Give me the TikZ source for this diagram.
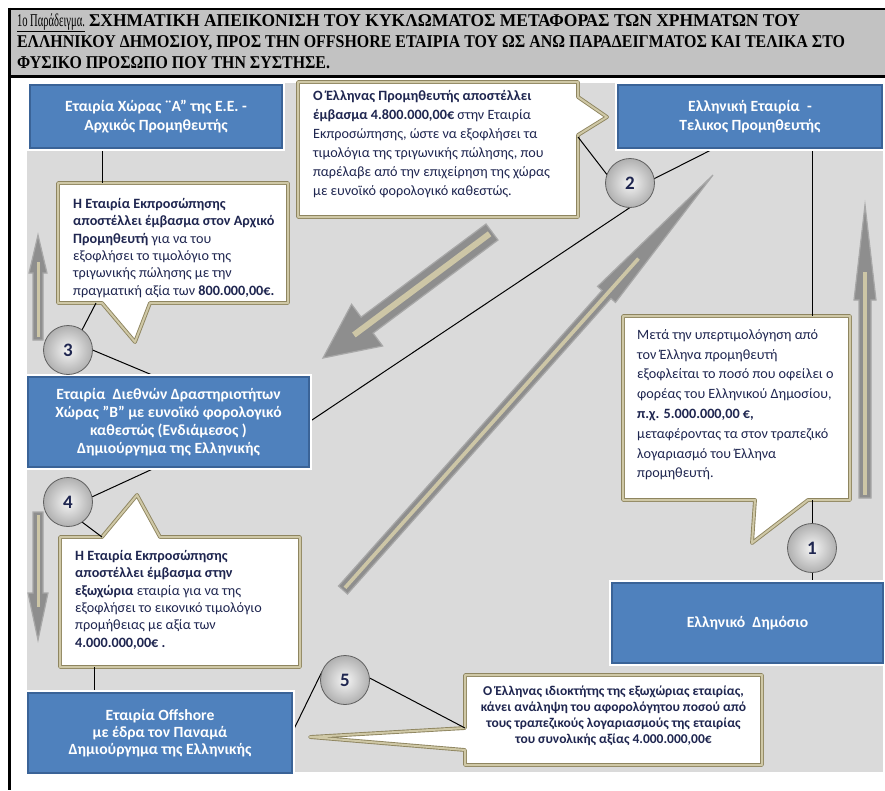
\documentclass[tikz,border=0pt]{standalone}
\usepackage{fontspec}
\usepackage{graphicx}
\setmainfont{Carlito}
\newfontfamily\hdrfont{Liberation Serif}
\usetikzlibrary{calc}
\pgfdeclarelayer{bg}
\pgfdeclarelayer{mid}
\pgfsetlayers{bg,mid,main}
\definecolor{boxblue}{HTML}{4F81BD}
\definecolor{boxedge}{HTML}{3A6397}
\definecolor{khaki}{HTML}{8E8560}
\definecolor{khakil}{HTML}{CFC8A6}
\definecolor{navy}{HTML}{1F2650}
\definecolor{bggray}{HTML}{DADADA}
\definecolor{hdrgray}{HTML}{C2C2C2}
\definecolor{arrowgray}{HTML}{8E8E8E}
\definecolor{arrowedge}{HTML}{A8A8A8}
\definecolor{arrowin}{HTML}{CDC6A6}

\newcommand\blockarrow[5]{%
  \coordinate (ba-h) at ($(#2)!#5!(#1)$);
  \filldraw[barrow] ($(#1)!#3!90:(#2)$) -- ($(ba-h)!#3!90:(#2)$) -- ($(ba-h)!#4!90:(#2)$) -- (#2)
    -- ($(ba-h)!#4!-90:(#2)$) -- ($(ba-h)!#3!-90:(#2)$) -- ($(#1)!#3!-90:(#2)$) -- cycle;
  \draw[barrowin, line width=0.6*#3] ($(#1)!3pt!(#2)$) -- ($(ba-h)!0.3!(#2)$);
}

\begin{document}
\begin{tikzpicture}[x=1pt,y=-1pt,
  hdr/.style={font=\hdrfont\bfseries\fontsize{18}{20}\selectfont, inner sep=0pt, outer sep=0pt, anchor=base west},
  bluebox/.style={rectangle, anchor=north west, fill=boxblue, draw=boxedge, line width=2.4pt,
     text=white, align=center, font=\bfseries\fontsize{15.6}{19}\selectfont, inner sep=2pt, outer sep=0pt,
     preaction={draw=white, line width=6pt}},
  cbox/.style={rectangle, anchor=north west, inner sep=0pt, outer sep=0pt},
  callout/.style={draw=khaki, line width=0.9pt, double=khakil, double distance=2pt, fill=white, line join=round},
  ctext/.style={anchor=north west, align=left, text=navy, inner sep=0pt, font=\fontsize{14.2}{17.4}\selectfont},
  numc/.style={circle, minimum size=49pt, inner sep=0pt, outer sep=0pt, draw=gray!75!black, line width=0.8pt,
     shading=radial, inner color=gray!8, outer color=gray!62, text=navy, font=\bfseries\fontsize{19}{19}\selectfont},
  conn/.style={draw=black, line width=1pt},
  barrow/.style={fill=arrowgray, draw=arrowedge, line width=1.2pt, line join=miter},
  barrowin/.style={draw=arrowin, line cap=butt}
]
\useasboundingbox (0,0) rectangle (885,790);

% ---------- background and header ----------
\begin{pgfonlayer}{bg}
  \fill[white] (0,0) rectangle (885,790);
  \fill[hdrgray] (9,9) rectangle (886,76);
  \draw[line width=2.5pt] (8,9) -- (886,9);
  \draw[line width=2.5pt] (8,76.5) -- (886,76.5);
  \draw[line width=3pt] (9,7.75) -- (9,790);
  \fill[bggray] (27,83) rectangle (883,772);
  % big decorative arrows
  \coordinate (a1t) at (492,232); \coordinate (a1h) at (323,358);
  \blockarrow{a1t}{a1h}{10pt}{26pt}{55pt}
  \coordinate (a2t) at (343,590); \coordinate (a2h) at (713,175);
  \blockarrow{a2t}{a2h}{6pt}{12pt}{160pt}
  \coordinate (a3t) at (38,340); \coordinate (a3h) at (38,235);
  \blockarrow{a3t}{a3h}{5pt}{9pt}{38pt}
  \coordinate (a4t) at (38,512); \coordinate (a4h) at (38,640);
  \blockarrow{a4t}{a4h}{5pt}{10pt}{47pt}
  \coordinate (a5t) at (865,498); \coordinate (a5h) at (865,205);
  \blockarrow{a5t}{a5h}{6pt}{11pt}{95pt}
\end{pgfonlayer}

\node[hdr] (h1a) at (17,26) {\resizebox{68pt}{\height}{\mdseries\underline{1ο Παράδειγμα.}}};
\node[hdr] (h1b) at (89,26) {\resizebox{711pt}{\height}{ΣΧΗΜΑΤΙΚΗ ΑΠΕΙΚΟΝΙΣΗ ΤΟΥ ΚΥΚΛΩΜΑΤΟΣ ΜΕΤΑΦΟΡΑΣ ΤΩΝ ΧΡΗΜΑΤΩΝ ΤΟΥ}};
\node[hdr] (h2) at (17,47) {\resizebox{828pt}{\height}{ΕΛΛΗΝΙΚΟΥ ΔΗΜΟΣΙΟΥ, ΠΡΟΣ ΤΗΝ OFFSHORE ΕΤΑΙΡΙΑ ΤΟΥ ΩΣ ΑΝΩ ΠΑΡΑΔΕΙΓΜΑΤΟΣ ΚΑΙ ΤΕΛΙΚΑ ΣΤΟ}};
\node[hdr] (h3) at (17,68) {\resizebox{313pt}{\height}{ΦΥΣΙΚΟ ΠΡΟΣΩΠΟ ΠΟΥ ΤΗΝ ΣΥΣΤΗΣΕ.}};

% ---------- blue boxes ----------
\node[bluebox, minimum width=252pt, minimum height=63pt] (b1) at (30,85)
  {Εταιρία Χώρας ¨Α" της Ε.Ε. -\\Αρχικός Προμηθευτής};
\node[bluebox, minimum width=264pt, minimum height=63pt] (b2) at (618,85)
  {Ελληνική Εταιρία\ \ -\\Τελικος Προμηθευτής};
\node[bluebox, minimum width=281pt, minimum height=90pt, font=\bfseries\fontsize{15.6}{18}\selectfont] (b3) at (28,377)
  {Εταιρία\ \ Διεθνών Δραστηριοτήτων\\Χώρας "Β" με ευνοϊκό φορολογικό\\καθεστώς (Ενδιάμεσος )\\Δημιούργημα της Ελληνικής};
\node[bluebox, minimum width=271pt, minimum height=80pt] (b4) at (612,583)
  {Ελληνικό\ \ Δημόσιο};
\node[bluebox, minimum width=264pt, minimum height=80pt, font=\bfseries\fontsize{15.6}{16.8}\selectfont] (b5) at (28,693)
  {Εταιρία Offshore\\με έδρα τον Παναμά\\Δημιούργημα της Ελληνικής};

% ---------- callout frames (named) ----------
\node[cbox, minimum width=230pt, minimum height=120pt] (cA) at (58,183) {};
\node[cbox, minimum width=280pt, minimum height=135pt] (cB) at (298,82) {};
\node[cbox, minimum width=227pt, minimum height=184pt] (cC) at (623,316) {};
\node[cbox, minimum width=240pt, minimum height=130pt] (cD) at (60,537) {};
\node[cbox, minimum width=297pt, minimum height=90pt] (cE) at (465,675) {};

\coordinate (tipA) at (135,342);
\coordinate (tipB) at (607,117);
\coordinate (tipC) at (752,543);
\coordinate (tipD) at (137,495);
\coordinate (tipE) at (310,737);

% ---------- callout texts ----------
\node[ctext] (tA) at ($(cA.north west)+(15,15)$)
  {\textbf{Η Εταιρία Εκπροσώπησης}\\
   \textbf{αποστέλλει έμβασμα στον Αρχικό}\\
   \textbf{Προμηθευτή} για να του\\
   εξοφλήσει το τιμολόγιο της\\
   τριγωνικής πώλησης με την\\
   πραγματική αξία των \textbf{800.000,00€.}};
\node[ctext, font=\fontsize{14.2}{19}\selectfont] (tB) at ($(cB.north west)+(15,8)$)
  {\textbf{Ο Έλληνας Προμηθευτής αποστέλλει}\\
   \textbf{έμβασμα 4.800.000,00€} στην Εταιρία\\
   Εκπροσώπησης, ώστε να εξοφλήσει τα\\
   τιμολόγια της τριγωνικής πώλησης, που\\
   παρέλαβε από την επιχείρηση της χώρας\\
   με ευνοϊκό φορολογικό καθεστώς.};
\node[ctext, font=\fontsize{14.2}{19.8}\selectfont] (tC) at ($(cC.north west)+(14,13)$)
  {Μετά την υπερτιμολόγηση από\\
   τον Έλληνα προμηθευτή\\
   εξοφλείται το ποσό που οφείλει ο\\
   φορέας του Ελληνικού Δημοσίου,\\
   \textbf{π.χ. 5.000.000,00 €,}\\
   μεταφέροντας τα στον τραπεζικό\\
   λογαριασμό του Έλληνα\\
   προμηθευτή.};
\node[ctext] (tD) at ($(cD.north west)+(15,13)$)
  {\textbf{Η Εταιρία Εκπροσώπησης}\\
   \textbf{αποστέλλει έμβασμα στην}\\
   \textbf{εξωχώρια} εταιρία για να της\\
   εξοφλήσει το εικονικό τιμολόγιο\\
   προμήθειας με αξία των\\
   \textbf{4.000.000,00€ .}};
\node[ctext, anchor=north, align=center, font=\bfseries\fontsize{13.5}{15.8}\selectfont] (tE) at ($(cE.north)+(0,11)$)
  {Ο Έλληνας ιδιοκτήτης της εξωχώριας εταιρίας,\\
   κάνει ανάληψη του αφορολόγητου ποσού από\\
   τους τραπεζικούς λογαριασμούς της εταιρίας\\
   του συνολικής αξίας 4.000.000,00€};

% ---------- numbered circles ----------
\node[numc] (n1) at (812,548) {1};
\node[numc] (n2) at (630,183) {2};
\node[numc] (n3) at (68,350) {3};
\node[numc] (n4) at (68,502) {4};
\node[numc] (n5) at (345,680) {5};

\coordinate (xA) at (102,0);
\coordinate (xC) at (812,0);
\coordinate (xD) at (94,0);

\begin{pgfonlayer}{mid}
  % callout outlines with pointers
  \path[callout] (cA.north west) -- (cA.north east) -- (cA.south east) -- ($(cA.south west)+(92,0)$)
     -- (tipA) -- ($(cA.south west)+(44,0)$) -- (cA.south west) -- cycle;
  \path[callout] (cB.north west) -- (cB.north east) -- ($(cB.north east)+(0,15)$) -- (tipB)
     -- ($(cB.north east)+(0,53)$) -- (cB.south east) -- (cB.south west) -- cycle;
  \path[callout] (cC.north west) -- (cC.north east) -- (cC.south east) -- ($(cC.south west)+(185,0)$)
     -- (tipC) -- ($(cC.south west)+(132,0)$) -- (cC.south west) -- cycle;
  \path[callout] (cD.north west) -- ($(cD.north west)+(42,0)$) -- (tipD) -- ($(cD.north west)+(100,0)$)
     -- (cD.north east) -- (cD.south east) -- (cD.south west) -- cycle;
  \path[callout] (cE.north west) -- (cE.north east) -- (cE.south east) -- (cE.south west)
     -- ($(cE.west)+(0,30)$) -- (tipE) -- ($(cE.west)+(0,8)$) -- cycle;
  % connectors
  \draw[conn] (b1.south -| xA) -- (cA.north -| xA);
  \draw[conn] ($(cA.south west)+(38,0)$) -- (n3.55);
  \draw[conn] (n3.east) -- ($(b3.north west)+(129,0)$);
  \draw[conn] ($(b3.south west)+(129,0)$) -- (n4.12);
  \draw[conn] (n4.-55) -- ($(cD.north west)+(42,0)$);
  \draw[conn] (cD.south -| xD) -- (b5.north -| xD);
  \draw[conn] (n5.160) -- (b5.east);
  \draw[conn] (n5.5) -- ($(cE.west)+(0,8)$);
  \draw[conn] ($(cB.north east)+(0,55)$) -- (n2.160);
  \draw[conn] (n2.10) -- ($(b2.south west)+(97,0)$);
  \draw[conn] (n2.south) -- (b3.east);
  \draw[conn] (b2.south -| xC) -- (cC.north -| xC);
  \draw[conn] (cC.south -| xC) -- (n1.north);
  \draw[conn] (n1.south) -- (b4.north -| xC);
\end{pgfonlayer}
\end{tikzpicture}
\end{document}
